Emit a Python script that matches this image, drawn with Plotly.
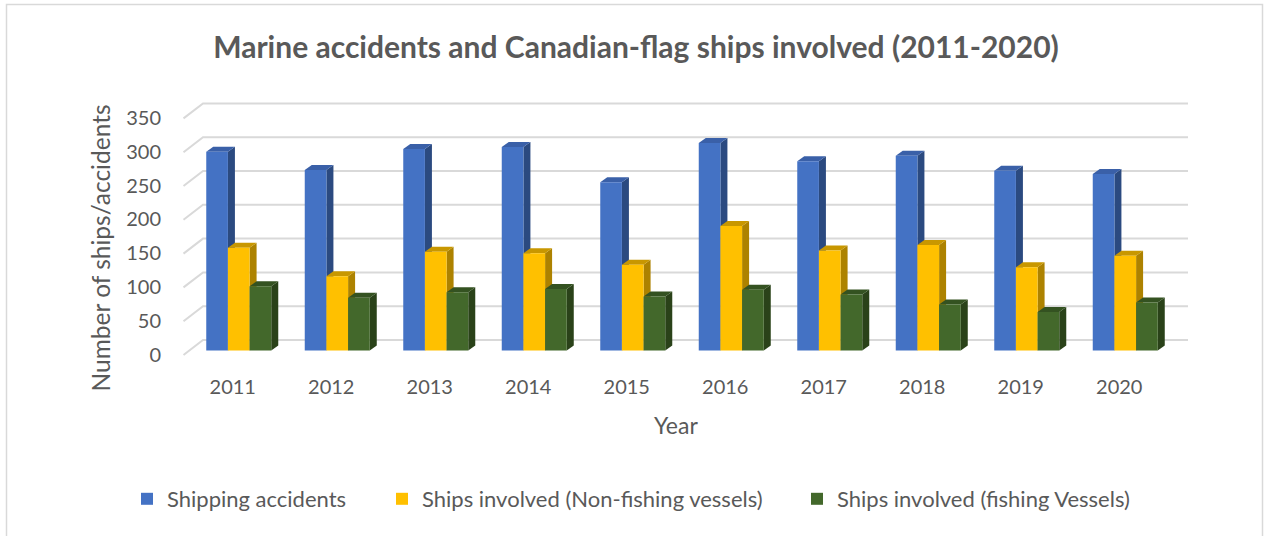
import plotly.graph_objects as go

# ---- data -------------------------------------------------------------
years = ["2011", "2012", "2013", "2014", "2015", "2016", "2017", "2018", "2019", "2020"]
shipping_accidents = [294, 267, 298, 301, 249, 307, 280, 288, 266, 261]
non_fishing_ships = [152, 110, 146, 144, 127, 184, 148, 156, 123, 140]
fishing_ships = [95, 78, 86, 91, 80, 90, 83, 68, 57, 71]
y_ticks = [0, 50, 100, 150, 200, 250, 300, 350]

# name, values, front colour, side colour, top colour
series = [
    ("Shipping accidents", shipping_accidents, "#4472C4", "#2B4A80", "#3A60A8"),
    ("Ships involved (Non-fishing vessels)", non_fishing_ships, "#FFC000", "#AD8200", "#C89700"),
    ("Ships involved (fishing Vessels)", fishing_ships, "#43682B", "#2A4219", "#345221"),
]

# ---- geometry of the pseudo-3D frame ----------------------------------
W, H = 1264, 536
L, R, T, B = 170, 1200, 95, 365          # plot area edges in pixels
PX_X = 98.5                              # pixels per category
PX_Y = 0.676                             # pixels per unit of value
X0_PX = 238.75                           # first category centre (bar plane)
Y0_PX = 350.5                            # value 0 (bar plane)
x_range = [(L - X0_PX) / PX_X, (R - X0_PX) / PX_X]
y_range = [(Y0_PX - B) / PX_Y, (Y0_PX - T) / PX_Y]


def dx(px):
    return px / PX_X


def dy(px):
    return px / PX_Y


GROUP = 0.66                 # share of a category taken by a group of bars
BAR_W = GROUP / len(series)
DEPTH_X, DEPTH_Y = 7, 5      # bar depth in pixels
FRONT_X, FRONT_Y = -6, 4.5   # floor front edge relative to bar plane
BACK_X, BACK_Y = 13.5, -10.5 # back wall relative to bar plane
GRID = "#D9D9D9"
TEXT = "#595959"
FONT = "Lato"

shapes = []

# back wall gridlines with their floor diagonals
n = len(years)
for v in y_ticks:
    xf, yf = -0.5 + dx(FRONT_X), v - dy(FRONT_Y)
    xb, yb = -0.5 + dx(BACK_X), v - dy(BACK_Y)
    xe = n - 0.5 + dx(BACK_X)
    shapes.append(dict(
        type="path", xref="x", yref="y", layer="below",
        path=f"M{xf},{yf} L{xb},{yb} L{xe},{yb}",
        line=dict(color=GRID, width=2),
    ))

# side and top faces of every bar
for i in range(n):
    for k, (_, vals, _, side_c, top_c) in enumerate(series):
        v = vals[i]
        xl = i - GROUP / 2 + k * BAR_W
        xr = xl + BAR_W
        ddx, ddy = dx(DEPTH_X), dy(DEPTH_Y)
        shapes.append(dict(
            type="path", xref="x", yref="y", layer="below",
            path=f"M{xr},0 L{xr + ddx},{ddy} L{xr + ddx},{v + ddy} L{xr},{v} Z",
            fillcolor=side_c, line=dict(width=0),
        ))
        shapes.append(dict(
            type="path", xref="x", yref="y", layer="below",
            path=f"M{xl},{v} L{xl + ddx},{v + ddy} L{xr + ddx},{v + ddy} L{xr},{v} Z",
            fillcolor=top_c, line=dict(width=0),
        ))


def paper_x(px):
    return (px - L) / (R - L)


def paper_y(py):
    return (B - py) / (B - T)


# chart border
shapes.append(dict(
    type="rect", xref="paper", yref="paper", layer="below",
    x0=paper_x(6.5), x1=paper_x(1262.5), y0=paper_y(545), y1=paper_y(4.5),
    line=dict(color=GRID, width=1.5), fillcolor="rgba(0,0,0,0)",
))

fig = go.Figure()
legend_names = ["legend", "legend2", "legend3"]
for k, (name, vals, front_c, _, _) in enumerate(series):
    fig.add_trace(go.Bar(
        x=list(range(n)), y=vals, name=name,
        marker=dict(color=front_c, line=dict(width=0)),
        legend=legend_names[k],
    ))

legend_x = [127, 382, 797]
legend_common = dict(
    orientation="h", yanchor="middle", xanchor="left",
    y=paper_y(499), font=dict(family=FONT, size=22, color=TEXT),
    bgcolor="rgba(0,0,0,0)", borderwidth=0,
)

fig.update_layout(
    width=W, height=H,
    margin=dict(l=L, r=W - R, t=T, b=H - B, pad=0),
    paper_bgcolor="white", plot_bgcolor="white",
    barmode="group", bargap=1 - GROUP, bargroupgap=0,
    showlegend=True,
    legend=dict(x=paper_x(legend_x[0]), **legend_common),
    legend2=dict(x=paper_x(legend_x[1]), **legend_common),
    legend3=dict(x=paper_x(legend_x[2]), **legend_common),
    title=dict(
        text="<b>Marine accidents and Canadian-flag ships involved (2011-2020)</b>",
        xref="container", x=636 / W, xanchor="center",
        yref="container", y=1 - 47 / H, yanchor="middle",
        font=dict(family=FONT, size=30, color=TEXT),
    ),
    xaxis=dict(
        range=x_range, tickvals=list(range(n)), ticktext=years,
        showgrid=False, zeroline=False, showline=False, ticks="",
        ticklabelshift=-6, ticklabelstandoff=8,
        tickfont=dict(family=FONT, size=20, color=TEXT),
        fixedrange=True,
    ),
    yaxis=dict(
        range=y_range, tickvals=y_ticks,
        showgrid=False, zeroline=False, showline=False, ticks="",
        ticklabelshift=4, ticklabelstandoff=8,
        tickfont=dict(family=FONT, size=20, color=TEXT),
        fixedrange=True,
    ),
    shapes=shapes,
    annotations=[
        dict(text="Year", xref="paper", yref="paper",
             x=paper_x(676), y=paper_y(425), xanchor="center", yanchor="middle",
             showarrow=False, font=dict(family=FONT, size=23, color=TEXT)),
        dict(text="Number of ships/accidents", xref="paper", yref="paper",
             x=paper_x(100), y=paper_y(248.5), xanchor="center", yanchor="middle",
             textangle=-90, showarrow=False,
             font=dict(family=FONT, size=24.5, color=TEXT)),
    ],
)

fig.write_html("out.html")
